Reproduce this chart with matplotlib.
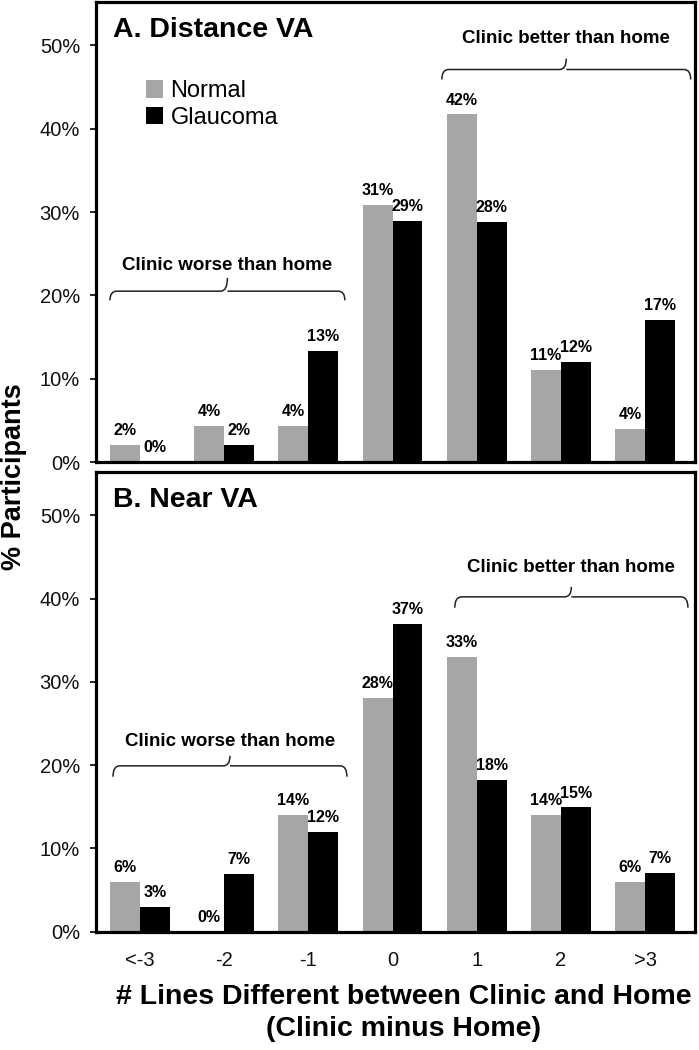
import matplotlib
matplotlib.use("Agg")
import matplotlib.pyplot as plt
from matplotlib.path import Path
import matplotlib.patches as patches

plt.rcParams['font.family'] = ['Liberation Sans', 'DejaVu Sans']

categories = ['<-3', '-2', '-1', '0', '1', '2', '>3']

# Panel A - distance VA
dist_normal = [2.1, 4.3, 4.3, 30.9, 41.7, 11.1, 4.0]
dist_glaucoma = [0.0, 2.0, 13.3, 28.9, 28.8, 12.0, 17.0]
dist_normal_lbl = ['2%', '4%', '4%', '31%', '42%', '11%', '4%']
dist_glaucoma_lbl = ['0%', '2%', '13%', '29%', '28%', '12%', '17%']

# Panel B - near VA
near_normal = [6.0, 0.0, 14.0, 28.0, 33.0, 14.0, 6.0]
near_glaucoma = [3.0, 6.9, 12.0, 36.9, 18.2, 14.9, 7.0]
near_normal_lbl = ['6%', '0%', '14%', '28%', '33%', '14%', '6%']
near_glaucoma_lbl = ['3%', '7%', '12%', '37%', '18%', '15%', '7%']

grey = '#a6a6a6'
bw = 0.355


def brace(ax, x0, x1, y, drop, tip, r=0.08):
    # curly brace opening downward, tip pointing up in the middle
    xm = (x0 + x1) / 2
    verts = [(x0, y - drop), (x0, y), (x0 + r, y),
             (xm - r, y), (xm, y), (xm, tip),
             (xm, y), (xm + r, y),
             (x1 - r, y), (x1, y), (x1, y - drop)]
    codes = [Path.MOVETO, Path.CURVE3, Path.CURVE3,
             Path.LINETO, Path.CURVE3, Path.CURVE3,
             Path.MOVETO, Path.LINETO,
             Path.LINETO, Path.CURVE3, Path.CURVE3]
    ax.add_patch(patches.PathPatch(Path(verts, codes), fill=False,
                                   edgecolor='#222222', lw=1.1))


def panel(ax, normal, glauc, nlbl, glbl, title, braces):
    x = range(len(categories))
    xn = [i - bw / 2 for i in x]
    xg = [i + bw / 2 for i in x]
    ax.bar(xn, normal, bw, color=grey, label='Normal')
    ax.bar(xg, glauc, bw, color='black', label='Glaucoma')
    for xi, h, t in zip(xn, normal, nlbl):
        ax.annotate(t, (xi, h), xytext=(0, 5), textcoords='offset points',
                    ha='center', va='bottom', fontsize=11.5, fontweight='bold')
    for xi, h, t in zip(xg, glauc, glbl):
        ax.annotate(t, (xi, h), xytext=(0, 5), textcoords='offset points',
                    ha='center', va='bottom', fontsize=11.5, fontweight='bold')

    ax.set_xlim(-0.523, 6.594)
    ax.set_ylim(0, 55.2)
    ax.set_yticks([0, 10, 20, 30, 40, 50])
    ax.set_yticklabels(['0%', '10%', '20%', '30%', '40%', '50%'])
    ax.set_xticks(list(x))
    ax.tick_params(axis='y', length=4.5, width=1.2, pad=7, labelsize=14.5,
                   labelcolor='#111111')
    ax.tick_params(axis='x', length=0, pad=14, labelsize=14.5,
                   labelcolor='#111111')
    for s in ax.spines.values():
        s.set_linewidth(2.3)
    ax.text(0.028, 0.94, title, transform=ax.transAxes, fontsize=20.5,
            fontweight='bold', va='center', ha='left')
    for (x0, x1, y, drop, tip, ty, txt) in braces:
        brace(ax, x0, x1, y, drop, tip)
        ax.text((x0 + x1) / 2, ty, txt, ha='center', va='center',
                fontsize=13.5, fontweight='bold')


fig = plt.figure(figsize=(6.99, 10.5), dpi=100)
ax1 = fig.add_axes([96 / 699, 1 - 462 / 1050, 599 / 699, 460 / 1050])
ax2 = fig.add_axes([96 / 699, 1 - 931.5 / 1050, 599 / 699, 459.5 / 1050])

panel(ax1, dist_normal, dist_glaucoma, dist_normal_lbl, dist_glaucoma_lbl,
      'A. Distance VA',
      [(-0.357, 2.434, 20.5, 1.1, 22.1, 23.6, 'Clinic worse than home'),
       (3.586, 6.543, 47.1, 1.2, 48.4, 50.8, 'Clinic better than home')])
ax1.set_xticklabels([])

panel(ax2, near_normal, near_glaucoma, near_normal_lbl, near_glaucoma_lbl,
      'B. Near VA',
      [(-0.321, 2.458, 19.9, 1.3, 21.1, 22.8, 'Clinic worse than home'),
       (3.74, 6.51, 40.2, 1.3, 41.4, 43.7, 'Clinic better than home')])
ax2.set_xticklabels(categories)

ax1.legend(loc='upper left', bbox_to_anchor=(0.083, 0.83), frameon=False,
           fontsize=17, handlelength=0.75, handleheight=0.75,
           handletextpad=0.3, labelspacing=0.2, borderpad=0,
           borderaxespad=0)

fig.text(14 / 699, 1 - 477 / 1050, '% Participants', rotation=90,
         ha='center', va='center', fontsize=19.5, fontweight='bold')
fig.text(404 / 699, 1 - 997 / 1050,
         '# Lines Different between Clinic and Home', ha='center',
         va='center', fontsize=20.5, fontweight='bold')
fig.text(404 / 699, 1 - 1029 / 1050, '(Clinic minus Home)', ha='center',
         va='center', fontsize=20.5, fontweight='bold')

fig.savefig('out.png', dpi=100)
